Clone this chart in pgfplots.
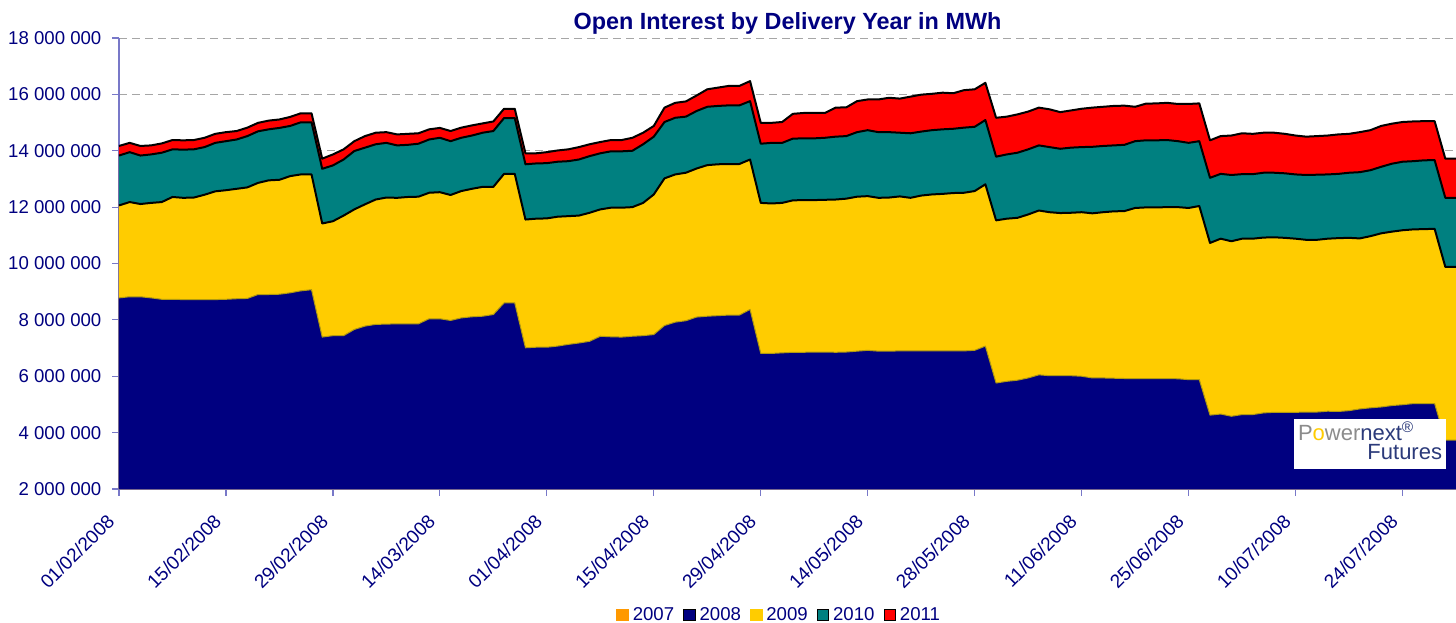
\documentclass[border=0pt]{standalone}
\usepackage{pgfplots}
\pgfplotsset{compat=1.18}
\usepackage{pgfplotstable}
\usepackage{fontspec}
\setmainfont{Liberation Sans}
\definecolor{cnavy}{HTML}{000080}
\definecolor{cyellow}{HTML}{FFCC00}
\definecolor{cteal}{HTML}{008080}
\definecolor{cred}{HTML}{FF0000}
\definecolor{corange}{HTML}{FF9900}
\definecolor{caxis}{HTML}{7878C8}
\definecolor{cgrid}{HTML}{A6A6A6}
\definecolor{colive}{HTML}{B09A10}
\definecolor{clogo}{HTML}{2B3A7A}
\definecolor{clogogray}{HTML}{8C8C8C}

% cumulative tops (millions MWh): n=2008, y=2008+2009, t=+2010, r=+2011
\pgfplotstableread{
x n y t r
0 8.78 12.06 13.83 14.17
1 8.82 12.18 13.95 14.28
2 8.82 12.11 13.83 14.17
3 8.78 12.15 13.87 14.19
4 8.73 12.18 13.93 14.26
5 8.73 12.36 14.05 14.38
6 8.72 12.33 14.04 14.37
7 8.72 12.34 14.05 14.38
8 8.72 12.44 14.13 14.46
9 8.72 12.56 14.28 14.60
10 8.73 12.60 14.34 14.66
11 8.75 12.65 14.40 14.70
12 8.76 12.70 14.52 14.82
13 8.90 12.86 14.69 14.99
14 8.90 12.95 14.76 15.07
15 8.91 12.97 14.81 15.11
16 8.96 13.10 14.88 15.20
17 9.03 13.16 15.01 15.33
18 9.07 13.16 15.01 15.33
19 7.39 11.42 13.36 13.72
20 7.44 11.50 13.48 13.87
21 7.44 11.70 13.69 14.05
22 7.66 11.92 13.99 14.34
23 7.78 12.10 14.11 14.52
24 7.84 12.27 14.23 14.64
25 7.85 12.34 14.28 14.66
26 7.86 12.33 14.19 14.58
27 7.86 12.36 14.21 14.60
28 7.86 12.37 14.25 14.62
29 8.04 12.51 14.40 14.76
30 8.04 12.53 14.46 14.81
31 7.98 12.43 14.34 14.70
32 8.07 12.57 14.46 14.82
33 8.11 12.65 14.54 14.90
34 8.13 12.72 14.64 14.97
35 8.19 12.72 14.70 15.04
36 8.60 13.18 15.16 15.49
37 8.60 13.18 15.16 15.49
38 7.01 11.56 13.52 13.91
39 7.03 11.59 13.55 13.91
40 7.03 11.60 13.56 13.95
41 7.07 11.66 13.61 14.01
42 7.13 11.68 13.63 14.05
43 7.18 11.70 13.69 14.13
44 7.24 11.80 13.81 14.23
45 7.42 11.92 13.91 14.31
46 7.40 11.98 13.98 14.38
47 7.39 11.98 13.98 14.38
48 7.42 12.00 14.00 14.46
49 7.44 12.15 14.23 14.64
50 7.48 12.45 14.50 14.88
51 7.80 13.02 15.02 15.53
52 7.92 13.16 15.17 15.70
53 7.97 13.22 15.21 15.75
54 8.10 13.37 15.41 15.96
55 8.13 13.49 15.56 16.18
56 8.15 13.52 15.59 16.24
57 8.17 13.53 15.61 16.30
58 8.17 13.53 15.61 16.30
59 8.37 13.69 15.76 16.47
60 6.81 12.15 14.25 14.99
61 6.81 12.13 14.28 14.99
62 6.83 12.15 14.28 15.02
63 6.85 12.24 14.43 15.31
64 6.85 12.25 14.44 15.34
65 6.86 12.25 14.44 15.34
66 6.86 12.26 14.46 15.34
67 6.85 12.27 14.50 15.53
68 6.86 12.30 14.52 15.54
69 6.89 12.37 14.66 15.76
70 6.92 12.39 14.73 15.82
71 6.89 12.33 14.66 15.82
72 6.89 12.34 14.66 15.88
73 6.90 12.38 14.64 15.85
74 6.90 12.33 14.62 15.92
75 6.90 12.41 14.68 15.99
76 6.90 12.45 14.73 16.02
77 6.90 12.47 14.76 16.06
78 6.90 12.50 14.78 16.04
79 6.90 12.51 14.82 16.15
80 6.92 12.57 14.85 16.18
81 7.07 12.81 15.09 16.41
82 5.76 11.53 13.79 15.17
83 5.82 11.59 13.87 15.21
84 5.86 11.62 13.93 15.29
85 5.94 11.74 14.05 15.39
86 6.05 11.88 14.19 15.53
87 6.02 11.82 14.13 15.47
88 6.02 11.79 14.07 15.37
89 6.02 11.80 14.11 15.43
90 6.00 11.82 14.13 15.49
91 5.94 11.78 14.14 15.53
92 5.94 11.82 14.17 15.56
93 5.93 11.85 14.19 15.59
94 5.92 11.86 14.21 15.60
95 5.92 11.97 14.34 15.56
96 5.92 11.99 14.37 15.67
97 5.92 11.99 14.37 15.68
98 5.92 12.00 14.38 15.70
99 5.91 12.00 14.34 15.66
100 5.88 11.97 14.28 15.66
101 5.88 12.04 14.34 15.68
102 4.62 10.73 13.04 14.37
103 4.66 10.88 13.18 14.52
104 4.58 10.79 13.14 14.54
105 4.64 10.88 13.17 14.62
106 4.64 10.88 13.17 14.60
107 4.70 10.92 13.22 14.64
108 4.72 10.93 13.22 14.64
109 4.72 10.91 13.20 14.60
110 4.72 10.88 13.16 14.54
111 4.73 10.84 13.14 14.50
112 4.73 10.84 13.15 14.52
113 4.76 10.88 13.16 14.54
114 4.75 10.90 13.18 14.58
115 4.78 10.91 13.22 14.60
116 4.84 10.89 13.24 14.66
117 4.88 10.97 13.31 14.73
118 4.91 11.07 13.43 14.88
119 4.96 11.13 13.54 14.96
120 4.99 11.18 13.61 15.02
121 5.03 11.21 13.63 15.04
122 5.03 11.22 13.66 15.05
123 5.03 11.23 13.67 15.05
124 3.73 9.88 12.33 13.72
125 3.73 9.88 12.33 13.72
}\data

\begin{document}
\begin{tikzpicture}
\begin{axis}[
  scale only axis,
  width=668.5pt, height=225.5pt,
  xmin=0, xmax=125, ymin=2, ymax=18,
  axis lines*=left,
  axis line style={caxis, line width=0.6pt},
  every tick/.style={caxis, line width=0.6pt},
  tick align=outside, major tick length=3.3pt,
  ytick={2,4,...,18},
  yticklabels={2 000 000,4 000 000,6 000 000,8 000 000,10 000 000,12 000 000,14 000 000,16 000 000,18 000 000},
  xtick={0,10,...,120},
  xticklabels={01/02/2008,15/02/2008,29/02/2008,14/03/2008,01/04/2008,15/04/2008,29/04/2008,14/05/2008,28/05/2008,11/06/2008,25/06/2008,10/07/2008,24/07/2008},
  ticklabel style={font=\fontsize{9.3pt}{11pt}\selectfont, text=cnavy},
  yticklabel style={xshift=-2pt},
  xticklabel style={font=\fontsize{9.5pt}{11pt}\selectfont, xshift=-4pt, yshift=-11pt, rotate=45, anchor=east, inner sep=0pt},
  ymajorgrids,
  grid style={cgrid, dash pattern=on 4.2pt off 2.3pt, line width=0.5pt},
  title={Open Interest by Delivery Year in MWh},
  title style={font=\fontsize{11.7pt}{13pt}\selectfont\bfseries, text=cnavy, yshift=-7.5pt},
  legend style={at={(0.4945,-0.2795)}, anchor=center, draw=none, fill=none,
    legend columns=5, font=\fontsize{9.3pt}{11pt}\selectfont, text=cnavy,
    /tikz/every even column/.append style={column sep=2.5pt},
    legend image code/.code={\draw[#1] (0pt,-2.9pt) rectangle (5.8pt,2.9pt);}},
  legend cell align=left,
]
\addlegendimage{fill=corange, draw=corange}
\addlegendentry{2007}
\addlegendimage{fill=cnavy, draw=black}
\addlegendentry{2008}
\addlegendimage{fill=cyellow, draw=cyellow}
\addlegendentry{2009}
\addlegendimage{fill=cteal, draw=black}
\addlegendentry{2010}
\addlegendimage{fill=cred, draw=black}
\addlegendentry{2011}

\addplot[forget plot, draw=none, fill=cred] table[x=x, y=r] {\data} \closedcycle;
\addplot[forget plot, draw=none, fill=cteal] table[x=x, y=t] {\data} \closedcycle;
\addplot[forget plot, draw=none, fill=cyellow] table[x=x, y=y] {\data} \closedcycle;
\addplot[forget plot, draw=none, fill=cnavy] table[x=x, y=n] {\data} \closedcycle;

\addplot[forget plot, colive, line width=0.5pt, line join=round] table[x=x, y=n] {\data};
\addplot[forget plot, black, line width=1pt, line join=round] table[x=x, y=y] {\data};
\addplot[forget plot, black, line width=1pt, line join=round] table[x=x, y=t] {\data};
\addplot[forget plot, black, line width=1pt, line join=round] table[x=x, y=r] {\data};

\node[fill=white, inner xsep=2pt, inner ysep=1.5pt, anchor=center, font=\fontsize{11pt}{11.5pt}\selectfont]
  at (rel axis cs:0.9357,0.0998)
  {\begin{tabular}{@{}l@{}}
   \textcolor{clogogray}{P\textcolor{cyellow}{o}wer}\textcolor{clogo}{next\textsuperscript{\textregistered}}\hspace{4pt}\\[-2pt]
   \makebox[72pt][r]{\textcolor{clogo}{Futures}}
   \end{tabular}};
\end{axis}
\pgfresetboundingbox
\useasboundingbox (-59.5pt,-66.5pt) rectangle (668.5pt,244.5pt);
\end{tikzpicture}
\end{document}
